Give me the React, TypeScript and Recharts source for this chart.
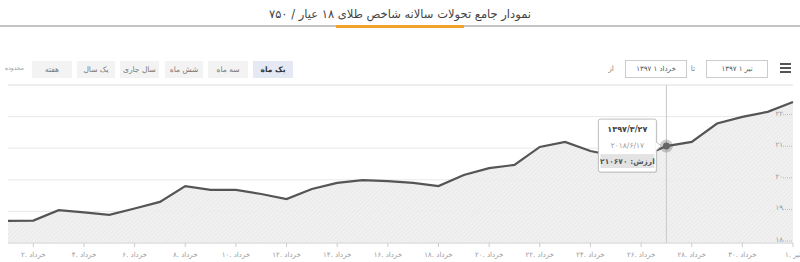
import React from 'react';
import { AreaChart, Area, XAxis, YAxis, CartesianGrid, ReferenceLine, ReferenceDot } from 'recharts';

const categories = [
  '۱. خرداد', '۲. خرداد', '۳. خرداد', '۴. خرداد', '۵. خرداد', '۶. خرداد', '۷. خرداد', '۸. خرداد',
  '۹. خرداد', '۱۰. خرداد', '۱۱. خرداد', '۱۲. خرداد', '۱۳. خرداد', '۱۴. خرداد', '۱۵. خرداد', '۱۶. خرداد',
  '۱۷. خرداد', '۱۸. خرداد', '۱۹. خرداد', '۲۰. خرداد', '۲۱. خرداد', '۲۲. خرداد', '۲۳. خرداد', '۲۴. خرداد',
  '۲۵. خرداد', '۲۶. خرداد', '۲۷. خرداد', '۲۸. خرداد', '۲۹. خرداد', '۳۰. خرداد', '۳۱. خرداد', '۱. تیر',
];

const values = [
  187000, 187100, 190400, 189700, 188900, 190900, 193000, 198000,
  196800, 196800, 195500, 193900, 197100, 199000, 199900, 199600,
  199000, 198000, 201500, 203700, 204700, 210400, 212000, 209100,
  207500, 207200, 210670, 212000, 217800, 219900, 221500, 224600,
];

const yTicks = [180000, 190000, 200000, 210000, 220000];
const yTickLabels = ['۱۸', '۱۹', '۲۰', '۲۱', '۲۲'];

const rangeButtons = ['هفته', 'یک سال', 'سال جاری', 'شش ماه', 'سه ماه', 'یک ماه'];
const activeRange = 'یک ماه';

const tooltipIndex = 26;
const tooltipPersianDate = '۱۳۹۷/۳/۲۷';
const tooltipGregorianDate = '۲۰۱۸/۶/۱۷';
const tooltipValueText = 'ارزش: ۲۱۰۶۷۰';

const data = categories.map((day, i) => ({ day, value: values[i] }));

const FONT = '"DejaVu Sans", sans-serif';

const XTick = (props: any) => {
  const { x, y, payload, index } = props;
  if (index % 2 === 0) return null;
  return (
    <g>
      <line x1={x} x2={x} y1={y} y2={y + 4} stroke="#ccc" strokeWidth={1} />
      <text x={x} y={y + 14} textAnchor="middle" fontSize={7} fill="#999" fontFamily={FONT}>
        {payload.value}
      </text>
    </g>
  );
};

const YTick = (props: any) => {
  const { y, payload } = props;
  const idx = yTicks.indexOf(payload.value);
  const x = 793;
  return (
    <g>
      <text x={x - 10} y={y - 1} textAnchor="end" fontSize={7} fill="#999" fontFamily={FONT}>
        {yTickLabels[idx]}
      </text>
      <line x1={x - 10} x2={x} y1={y - 2} y2={y - 2} stroke="#bbb" strokeDasharray="1 1" />
    </g>
  );
};

const TooltipShape = (props: any) => {
  const { cx, cy } = props;
  const left = cx - 68;
  const right = cx - 10;
  const top = cy - 27;
  const bottom = cy + 26;
  const mid = (left + right) / 2;
  return (
    <g>
      <circle cx={cx} cy={cy} r={6.5} fill="rgba(90,90,90,0.3)" />
      <circle cx={cx} cy={cy} r={3.5} fill="#666" />
      <rect x={left + 1} y={top + 1} width={right - left} height={bottom - top} fill="rgba(0,0,0,0.08)" rx={2} />
      <rect x={left} y={top} width={right - left} height={bottom - top} fill="#fff" stroke="#bdbdbd" rx={2} />
      <path d={`M${right} ${cy - 4} L${right + 5} ${cy} L${right} ${cy + 4} Z`} fill="#fff" stroke="#bdbdbd" />
      <line x1={right} x2={right} y1={cy - 3.5} y2={cy + 3.5} stroke="#fff" strokeWidth={1.5} />
      <text x={mid} y={cy - 14} textAnchor="middle" fontSize={8} fontWeight="bold" fill="#444" fontFamily={FONT}>
        {tooltipPersianDate}
      </text>
      <text x={mid} y={cy + 2} textAnchor="middle" fontSize={7.5} fill="#999" fontFamily={FONT}>
        {tooltipGregorianDate}
      </text>
      <rect x={left + 2} y={cy + 8} width={right - left - 4} height={14} fill="#e3e3e3" />
      <text x={mid} y={cy + 18} textAnchor="middle" fontSize={7.5} fontWeight="bold" fill="#555" fontFamily={FONT} direction="rtl">
        {tooltipValueText}
      </text>
    </g>
  );
};

export default function App() {
  const buttonPos = [
    { x: 32, w: 40 },
    { x: 77, w: 38 },
    { x: 120, w: 39 },
    { x: 165, w: 38 },
    { x: 208, w: 40 },
    { x: 253, w: 40 },
  ];
  return (
    <div style={{ position: 'absolute', left: 0, top: 0, width: 800, height: 262, background: '#fff', fontFamily: FONT, overflow: 'hidden' }}>
      <div style={{ position: 'absolute', left: 0, top: 6, width: 800, textAlign: 'center', fontSize: 11.5, color: '#444', direction: 'rtl', lineHeight: '16px' }}>
        نمودار جامع تحولات سالانه شاخص طلای ۱۸ عیار / ۷۵۰
      </div>
      <div style={{ position: 'absolute', left: 0, top: 25, width: 800, height: 1.5, background: '#c4c4c4' }} />
      <div style={{ position: 'absolute', left: 336, top: 25, width: 128, height: 3, background: '#f2a12a' }} />

      <div style={{ position: 'absolute', left: 5, top: 64, width: 18, textAlign: 'center', fontSize: 6, color: '#999' }}>محدوده</div>
      {rangeButtons.map((b, i) => {
        const active = b === activeRange;
        return (
          <div key={b} style={{
            position: 'absolute', left: buttonPos[i].x, top: 61, width: buttonPos[i].w, height: 17,
            background: active ? '#e4e9f3' : '#f3f3f3', color: active ? '#333' : '#777',
            fontWeight: active ? 'bold' : 'normal', fontSize: 7.5, lineHeight: '17px', textAlign: 'center', direction: 'rtl',
          }}>{b}</div>
        );
      })}

      <div style={{ position: 'absolute', left: 604, top: 62, width: 14, textAlign: 'center', fontSize: 7.5, color: '#888', lineHeight: '14px' }}>از</div>
      <div style={{ position: 'absolute', left: 625, top: 60, width: 60, height: 16, border: '1px solid #ccc', fontSize: 7, color: '#555', lineHeight: '16px', textAlign: 'center', direction: 'rtl' }}>خرداد ۱ ۱۳۹۷</div>
      <div style={{ position: 'absolute', left: 687, top: 62, width: 12, textAlign: 'center', fontSize: 7.5, color: '#888', lineHeight: '14px' }}>تا</div>
      <div style={{ position: 'absolute', left: 706, top: 60, width: 60, height: 16, border: '1px solid #ccc', fontSize: 7, color: '#555', lineHeight: '16px', textAlign: 'center', direction: 'rtl' }}>تیر ۱ ۱۳۹۷</div>
      {[63, 67, 71].map((t) => (
        <div key={t} style={{ position: 'absolute', left: 780, top: t, width: 11, height: 2, background: '#555' }} />
      ))}

      <div style={{ position: 'absolute', left: 0, top: 0 }}>
        <AreaChart width={800} height={262} data={data} margin={{ top: 85, right: 7, bottom: 0, left: 8 }}>
          <defs>
            <pattern id="hatch" width="3" height="3" patternUnits="userSpaceOnUse" patternTransform="rotate(45)">
              <rect width="3" height="3" fill="#efefef" />
              <line x1="0" y1="0" x2="0" y2="3" stroke="#e0e0e0" strokeWidth="1" />
            </pattern>
          </defs>
          <CartesianGrid vertical={false} stroke="#e8e8e8" />
          <XAxis dataKey="day" interval={0} height={19} tickLine={false} tickSize={0} tickMargin={0}
            axisLine={{ stroke: '#d8d8d8' }} tick={<XTick />} />
          <YAxis orientation="right" mirror width={40} domain={[180000, 230000]} ticks={yTicks} allowDataOverflow
            axisLine={false} tickLine={false} tickSize={0} tickMargin={0} tick={<YTick />} />
          <ReferenceLine y={230000} stroke="#e8e8e8" />
          <Area type="linear" dataKey="value" stroke="#555" strokeWidth={2.2} fill="url(#hatch)" fillOpacity={0.9}
            isAnimationActive={false} dot={false} activeDot={false} />
          <ReferenceLine x={categories[tooltipIndex]} stroke="#c8c8c8" />
          <ReferenceDot x={categories[tooltipIndex]} y={values[tooltipIndex]} shape={<TooltipShape />} />
        </AreaChart>
      </div>
    </div>
  );
}
